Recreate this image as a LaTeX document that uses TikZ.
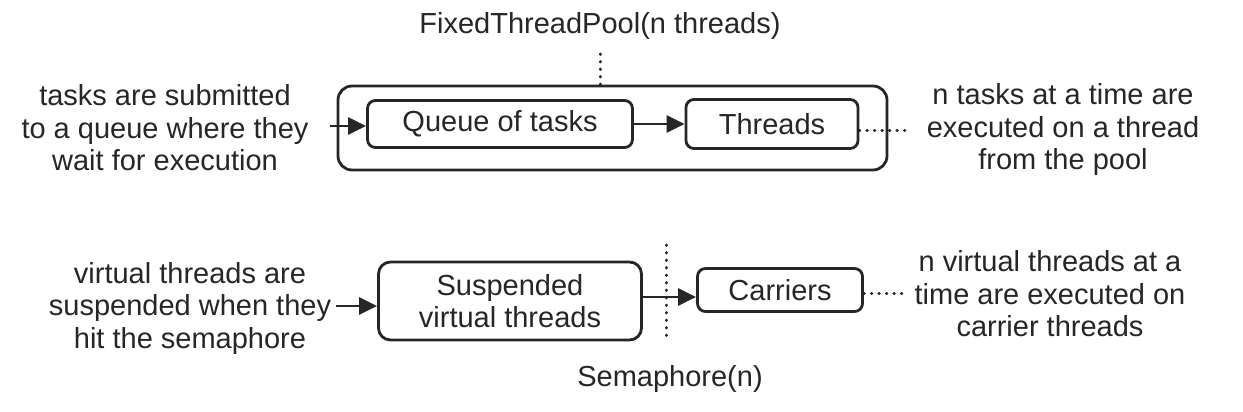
\documentclass[tikz,border=0pt]{standalone}
\usepackage{fontspec}
\setmainfont{Liberation Sans}
\usetikzlibrary{arrows.meta}
\begin{document}
\begin{tikzpicture}[x=1pt,y=-1pt,
  box/.style={draw=black!85,line width=2.8pt,rounded corners=8pt,inner sep=0pt},
  lbl/.style={font=\fontsize{29}{32.5}\selectfont,align=center,text=black!85},
  conn/.style={draw=black!85,line width=2.8pt,-{Triangle[length=18pt,width=17pt]}},
  dots/.style={draw=black!85,line width=3pt,dash pattern=on 0.5pt off 7pt,line cap=round}]
\useasboundingbox[fill=white] (0,0) rectangle (1243,412);
% top
\node[lbl] (ftp) at (600,26) {FixedThreadPool(n threads)};
\node[box,minimum width=549pt,minimum height=84pt,rounded corners=14pt] (pool) at (612.5,128) {};
\node[box,lbl,minimum width=265pt,minimum height=47pt] (queue) at (500,124) {Queue of tasks};
\node[box,lbl,minimum width=172pt,minimum height=49pt] (threads) at (772,124) {Threads};
\node[lbl] (ltext) at (165,128) {tasks are submitted\\to a queue where they\\wait for execution};
\node[lbl] (rtext) at (1063,130) {n tasks at a time are\\executed on a thread\\from the pool};
\coordinate (ftpb) at (600,54);
\draw[dots] (ftpb) -- (pool.north -| ftpb);
\coordinate (la) at (330,126);
\draw[conn] (la) -- (queue.west |- la);
\draw[conn] (queue.east) -- (threads.west);
\coordinate (rt) at (905,130);
\draw[dots] (threads.east |- rt) -- (rt);
% bottom
\node[box,lbl,minimum width=263pt,minimum height=78pt,rounded corners=12pt] (susp) at (510,301) {Suspended\\virtual threads};
\node[box,lbl,minimum width=165pt,minimum height=43pt] (carr) at (780,290) {Carriers};
\node[lbl] (ltext2) at (190,308) {virtual threads are\\suspended when they\\hit the semaphore};
\node[lbl] (rtext2) at (1050,294) {n virtual threads at a\\time are executed on\\carrier threads};
\node[lbl] (sem) at (670,379) {Semaphore(n)};
\coordinate (semt) at (666,245);
\coordinate (semb) at (666,342);
\draw[dots] (semt) -- (semb);
\coordinate (la2) at (336,306);
\draw[conn] (la2) -- (susp.west |- la2);
\coordinate (ca) at (641,297);
\draw[conn] (ca) -- (carr.west |- ca);
\coordinate (rt2) at (905,293);
\draw[dots] (carr.east |- rt2) -- (rt2);
\end{tikzpicture}
\end{document}
